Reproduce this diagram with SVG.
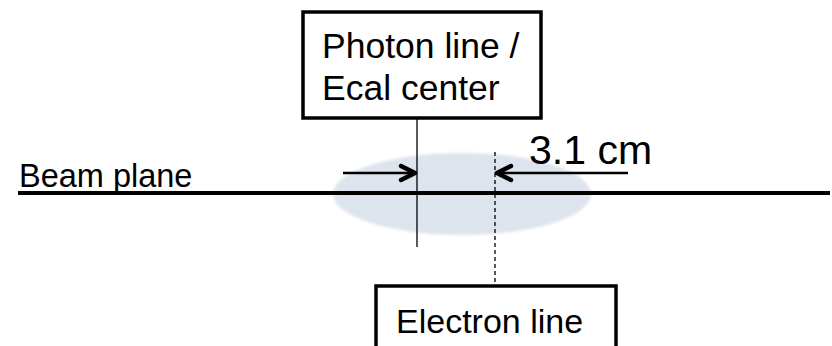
<svg xmlns="http://www.w3.org/2000/svg" width="832" height="346" viewBox="0 0 832 346">
<style>
text { font-family: "Liberation Sans", Arial, sans-serif; fill: #000; }
.box { fill: #fff; stroke: #000; stroke-width: 3.5; }
.arrow { stroke: #000; stroke-width: 2.5; fill: none; }
.head { stroke: #000; stroke-width: 4.5; fill: none; stroke-linecap: round; stroke-linejoin: round; }
</style>
<defs>
<filter id="soft" x="-10%" y="-20%" width="120%" height="140%">
<feGaussianBlur stdDeviation="1.5"/>
</filter>
</defs>
<g id="beam-spot">
<ellipse cx="462" cy="194" rx="129" ry="41" fill="#dde4ed" filter="url(#soft)"/>
</g>
<g id="beam-plane">
<line x1="18" y1="193" x2="830" y2="193" stroke="#000" stroke-width="4"/>
<text x="19" y="187" font-size="32.5">Beam plane</text>
</g>
<g id="connectors">
<line x1="417" y1="118" x2="417" y2="247" stroke="#000" stroke-width="1.3"/>
<line x1="495" y1="152" x2="495" y2="286" stroke="#000" stroke-width="1.3" stroke-dasharray="4,3"/>
<line class="arrow" x1="343" y1="173" x2="415" y2="173"/>
<polyline class="head" points="401,166 415,173 401,180"/>
<line class="arrow" x1="497" y1="173" x2="628" y2="173"/>
<polyline class="head" points="511,166 497,173 511,180"/>
</g>
<g id="photon-box">
<rect class="box" x="303" y="12" width="238" height="106"/>
<text x="322" y="58" font-size="35.5">Photon line /</text>
<text x="322" y="100" font-size="35.5">Ecal center</text>
</g>
<g id="electron-box">
<rect class="box" x="376" y="286" width="240" height="80"/>
<text x="396" y="333" font-size="34">Electron line</text>
</g>
<g id="distance-label">
<text x="529" y="164" font-size="41">3.1 cm</text>
</g>
</svg>
